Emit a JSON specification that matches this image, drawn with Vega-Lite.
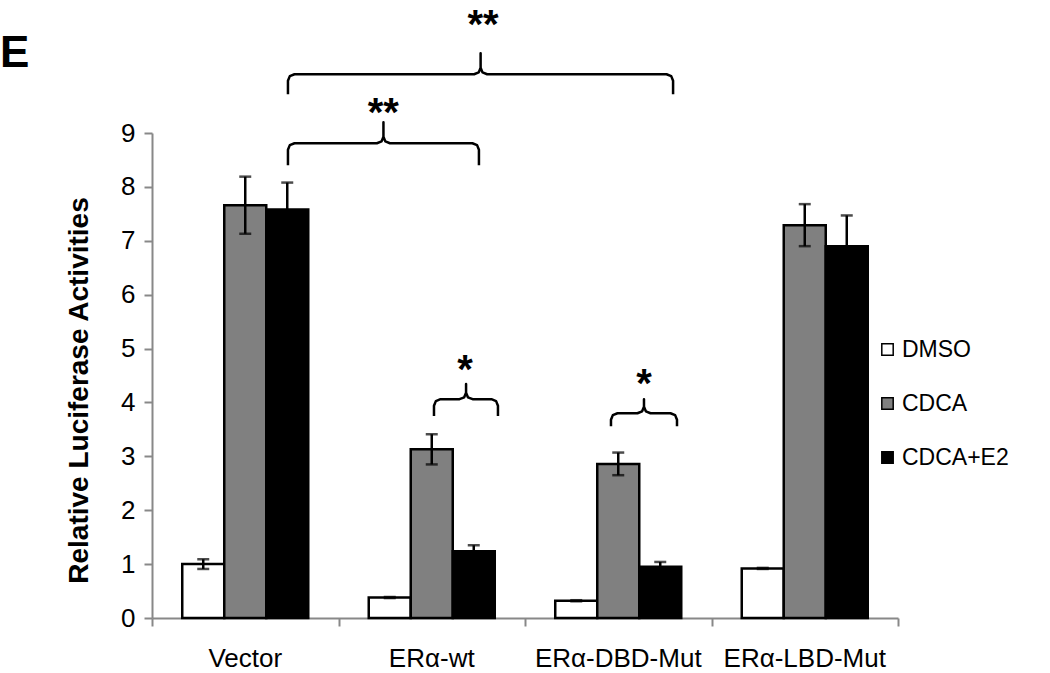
{
  "$schema": "https://vega.github.io/schema/vega-lite/v6.json",
  "width": 746,
  "height": 485,
  "autosize": {"type": "none"},
  "padding": {"left": 152, "top": 133, "right": 152, "bottom": 55},
  "background": "white",
  "config": {
    "view": {"stroke": null},
    "font": "Liberation Sans",
    "axisY": {
      "grid": false,
      "labelFontSize": 26,
      "labelColor": "black",
      "labelPadding": 9,
      "tickSize": 8,
      "tickWidth": 2,
      "tickColor": "#888888",
      "domainColor": "#888888",
      "domainWidth": 2,
      "titleFontSize": 28,
      "titleFontWeight": "bold",
      "titleColor": "black",
      "titlePadding": 27,
      "titleY": 257
    }
  },
  "datasets": {
    "bars": [
      {"construct": "Vector", "treatment": "DMSO", "value": 1.0, "lo": 0.91, "hi": 1.09},
      {"construct": "Vector", "treatment": "CDCA", "value": 7.66, "lo": 7.13, "hi": 8.19},
      {"construct": "Vector", "treatment": "CDCA+E2", "value": 7.58, "lo": 7.08, "hi": 8.08},
      {"construct": "ERα-wt", "treatment": "DMSO", "value": 0.38, "lo": 0.37, "hi": 0.39},
      {"construct": "ERα-wt", "treatment": "CDCA", "value": 3.13, "lo": 2.85, "hi": 3.41},
      {"construct": "ERα-wt", "treatment": "CDCA+E2", "value": 1.24, "lo": 1.13, "hi": 1.35},
      {"construct": "ERα-DBD-Mut", "treatment": "DMSO", "value": 0.32, "lo": 0.31, "hi": 0.33},
      {"construct": "ERα-DBD-Mut", "treatment": "CDCA", "value": 2.86, "lo": 2.65, "hi": 3.07},
      {"construct": "ERα-DBD-Mut", "treatment": "CDCA+E2", "value": 0.95, "lo": 0.86, "hi": 1.04},
      {"construct": "ERα-LBD-Mut", "treatment": "DMSO", "value": 0.92, "lo": 0.91, "hi": 0.93},
      {"construct": "ERα-LBD-Mut", "treatment": "CDCA", "value": 7.29, "lo": 6.9, "hi": 7.68},
      {"construct": "ERα-LBD-Mut", "treatment": "CDCA+E2", "value": 6.9, "lo": 6.33, "hi": 7.47}
    ],
    "brackets": [
      {"b": "B1", "i": 1, "x": 0.729, "y": 9.72},
      {"b": "B1", "i": 2, "x": 0.729, "y": 9.97},
      {"b": "B1", "i": 3, "x": 0.739, "y": 10.055},
      {"b": "B1", "i": 4, "x": 0.764, "y": 10.09},
      {"b": "B1", "i": 5, "x": 1.727, "y": 10.09},
      {"b": "B1", "i": 6, "x": 1.752, "y": 10.125},
      {"b": "B1", "i": 7, "x": 1.762, "y": 10.21},
      {"b": "B1", "i": 8, "x": 1.762, "y": 10.48},
      {"b": "B1", "i": 9, "x": 1.762, "y": 10.21},
      {"b": "B1", "i": 10, "x": 1.772, "y": 10.125},
      {"b": "B1", "i": 11, "x": 1.797, "y": 10.09},
      {"b": "B1", "i": 12, "x": 2.759, "y": 10.09},
      {"b": "B1", "i": 13, "x": 2.784, "y": 10.055},
      {"b": "B1", "i": 14, "x": 2.794, "y": 9.97},
      {"b": "B1", "i": 15, "x": 2.794, "y": 9.72},
      {"b": "B2", "i": 1, "x": 0.729, "y": 8.4},
      {"b": "B2", "i": 2, "x": 0.729, "y": 8.69},
      {"b": "B2", "i": 3, "x": 0.739, "y": 8.775},
      {"b": "B2", "i": 4, "x": 0.764, "y": 8.81},
      {"b": "B2", "i": 5, "x": 1.206, "y": 8.81},
      {"b": "B2", "i": 6, "x": 1.231, "y": 8.845},
      {"b": "B2", "i": 7, "x": 1.241, "y": 8.93},
      {"b": "B2", "i": 8, "x": 1.241, "y": 9.2},
      {"b": "B2", "i": 9, "x": 1.241, "y": 8.93},
      {"b": "B2", "i": 10, "x": 1.251, "y": 8.845},
      {"b": "B2", "i": 11, "x": 1.276, "y": 8.81},
      {"b": "B2", "i": 12, "x": 1.718, "y": 8.81},
      {"b": "B2", "i": 13, "x": 1.743, "y": 8.775},
      {"b": "B2", "i": 14, "x": 1.753, "y": 8.69},
      {"b": "B2", "i": 15, "x": 1.753, "y": 8.4},
      {"b": "B3", "i": 1, "x": 1.512, "y": 3.75},
      {"b": "B3", "i": 2, "x": 1.512, "y": 3.94},
      {"b": "B3", "i": 3, "x": 1.522, "y": 4.025},
      {"b": "B3", "i": 4, "x": 1.547, "y": 4.06},
      {"b": "B3", "i": 5, "x": 1.649, "y": 4.06},
      {"b": "B3", "i": 6, "x": 1.674, "y": 4.095},
      {"b": "B3", "i": 7, "x": 1.684, "y": 4.18},
      {"b": "B3", "i": 8, "x": 1.684, "y": 4.34},
      {"b": "B3", "i": 9, "x": 1.684, "y": 4.18},
      {"b": "B3", "i": 10, "x": 1.694, "y": 4.095},
      {"b": "B3", "i": 11, "x": 1.719, "y": 4.06},
      {"b": "B3", "i": 12, "x": 1.82, "y": 4.06},
      {"b": "B3", "i": 13, "x": 1.845, "y": 4.025},
      {"b": "B3", "i": 14, "x": 1.855, "y": 3.94},
      {"b": "B3", "i": 15, "x": 1.855, "y": 3.75},
      {"b": "B4", "i": 1, "x": 2.461, "y": 3.56},
      {"b": "B4", "i": 2, "x": 2.461, "y": 3.68},
      {"b": "B4", "i": 3, "x": 2.471, "y": 3.765},
      {"b": "B4", "i": 4, "x": 2.496, "y": 3.8},
      {"b": "B4", "i": 5, "x": 2.603, "y": 3.8},
      {"b": "B4", "i": 6, "x": 2.628, "y": 3.835},
      {"b": "B4", "i": 7, "x": 2.638, "y": 3.92},
      {"b": "B4", "i": 8, "x": 2.638, "y": 4.06},
      {"b": "B4", "i": 9, "x": 2.638, "y": 3.92},
      {"b": "B4", "i": 10, "x": 2.648, "y": 3.835},
      {"b": "B4", "i": 11, "x": 2.673, "y": 3.8},
      {"b": "B4", "i": 12, "x": 2.78, "y": 3.8},
      {"b": "B4", "i": 13, "x": 2.805, "y": 3.765},
      {"b": "B4", "i": 14, "x": 2.815, "y": 3.68},
      {"b": "B4", "i": 15, "x": 2.815, "y": 3.56}
    ],
    "stars": [
      {"label": "**", "x": 1.775, "y": 10.77},
      {"label": "**", "x": 1.24, "y": 9.13},
      {"label": "*", "x": 1.678, "y": 4.36},
      {"label": "*", "x": 2.638, "y": 4.1}
    ]
  },
  "layer": [
    {
      "data": {"name": "bars"},
      "encoding": {
        "x": {
          "field": "construct",
          "type": "nominal",
          "sort": ["Vector", "ERα-wt", "ERα-DBD-Mut", "ERα-LBD-Mut"],
          "scale": {"paddingInner": 0, "paddingOuter": 0},
          "axis": {
            "title": null,
            "labelAngle": 0,
            "labelFontSize": 26,
            "labelColor": "black",
            "labelPadding": 27,
            "ticks": false,
            "domainColor": "#888888",
            "domainWidth": 2
          }
        },
        "xOffset": {
          "field": "treatment",
          "type": "nominal",
          "sort": ["DMSO", "CDCA", "CDCA+E2"],
          "scale": {"domain": ["DMSO", "CDCA", "CDCA+E2"], "paddingOuter": 0.72, "paddingInner": 0}
        }
      },
      "layer": [
        {
          "mark": {"type": "bar", "stroke": "black", "strokeWidth": 2.5},
          "encoding": {
            "y": {
              "field": "value",
              "type": "quantitative",
              "scale": {"domain": [0, 9], "nice": false},
              "axis": {"title": "Relative Luciferase Activities", "values": [0, 1, 2, 3, 4, 5, 6, 7, 8, 9]}
            },
            "fill": {
              "field": "treatment",
              "type": "nominal",
              "scale": {"domain": ["DMSO", "CDCA", "CDCA+E2"], "range": ["#ffffff", "#808080", "#000000"]},
              "legend": {
                "orient": "none",
                "legendX": 724,
                "legendY": 205,
                "padding": 0,
                "title": null,
                "symbolType": "square",
                "symbolSize": 130,
                "symbolStrokeColor": "black",
                "symbolStrokeWidth": 1.5,
                "labelFontSize": 23,
                "labelColor": "black",
                "labelOffset": 3,
                "rowPadding": 30
              }
            }
          }
        },
        {
          "mark": {"type": "rule", "color": "black", "strokeWidth": 2.5},
          "encoding": {
            "y": {"field": "lo", "type": "quantitative", "scale": {"domain": [0, 9], "nice": false}, "axis": {"title": "Relative Luciferase Activities", "values": [0, 1, 2, 3, 4, 5, 6, 7, 8, 9]}},
            "y2": {"field": "hi"}
          }
        },
        {
          "mark": {"type": "tick", "orient": "horizontal", "color": "black", "size": 12, "thickness": 2.5},
          "encoding": {
            "y": {"field": "lo", "type": "quantitative", "scale": {"domain": [0, 9], "nice": false}, "axis": {"title": "Relative Luciferase Activities", "values": [0, 1, 2, 3, 4, 5, 6, 7, 8, 9]}}
          }
        },
        {
          "mark": {"type": "tick", "orient": "horizontal", "color": "black", "size": 12, "thickness": 2.5},
          "encoding": {
            "y": {"field": "hi", "type": "quantitative", "scale": {"domain": [0, 9], "nice": false}, "axis": {"title": "Relative Luciferase Activities", "values": [0, 1, 2, 3, 4, 5, 6, 7, 8, 9]}}
          }
        }
      ]
    },
    {
      "encoding": {
        "x": {
          "field": "x",
          "type": "quantitative",
          "scale": {"domain": [0, 4], "nice": false, "zero": false},
          "axis": {
            "orient": "bottom",
            "title": null,
            "values": [0, 1, 2, 3, 4],
            "labels": false,
            "domain": false,
            "grid": false,
            "tickSize": 8,
            "tickWidth": 2,
            "tickColor": "#888888"
          }
        },
        "y": {"field": "y", "type": "quantitative", "scale": {"domain": [0, 9], "nice": false}, "axis": {"title": "Relative Luciferase Activities", "values": [0, 1, 2, 3, 4, 5, 6, 7, 8, 9]}}
      },
      "layer": [
        {
          "data": {"name": "brackets"},
          "mark": {"type": "line", "color": "black", "strokeWidth": 2.5, "strokeJoin": "round"},
          "encoding": {
            "detail": {"field": "b", "type": "nominal"},
            "order": {"field": "i", "type": "quantitative"}
          }
        },
        {
          "data": {"name": "stars"},
          "mark": {"type": "text", "fontSize": 40, "fontWeight": "bold", "align": "center", "baseline": "alphabetic", "color": "black"},
          "encoding": {"text": {"field": "label"}}
        },
        {
          "data": {"values": [{"label": "E", "x": -0.815, "y": 10.22}]},
          "mark": {"type": "text", "fontSize": 44, "fontWeight": "bold", "align": "left", "baseline": "alphabetic", "color": "black"},
          "encoding": {"text": {"field": "label"}}
        }
      ]
    }
  ],
  "resolve": {"scale": {"x": "independent"}, "axis": {"x": "independent"}}
}
